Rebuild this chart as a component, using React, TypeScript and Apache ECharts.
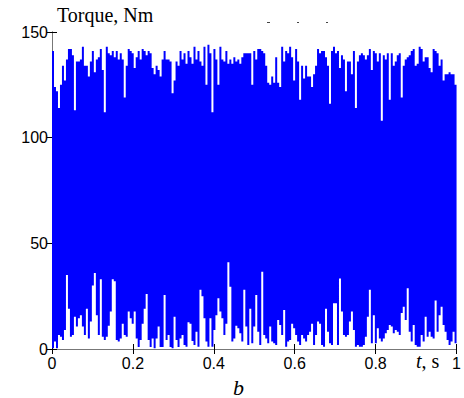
import React, { useEffect, useRef } from "react";
import * as echarts from "echarts";

// Upper envelope (peaks) of the torque signal, Nm, read every ~2 px from t = 0 to 1 s
const upperPeaks: number[] = [
  141, 124, 122, 114, 125, 134, 127, 137, 142, 142,
  139, 113, 136, 136, 137, 143, 134, 134, 129, 136,
  141, 131, 137, 138, 142, 132, 112, 143, 140, 139,
  141, 138, 141, 137, 140, 137, 119, 134, 142, 141,
  140, 133, 138, 141, 137, 142, 141, 139, 141, 140,
  133, 130, 134, 132, 129, 137, 141, 137, 137, 136,
  121, 127, 136, 134, 141, 137, 140, 135, 141, 138,
  135, 143, 137, 141, 136, 134, 143, 125, 144, 140,
  112, 142, 137, 125, 143, 137, 136, 141, 135, 137,
  135, 138, 136, 137, 135, 138, 140, 140, 140, 140,
  125, 141, 137, 142, 142, 141, 140, 134, 126, 125,
  129, 126, 138, 126, 124, 143, 136, 141, 140, 143,
  138, 127, 142, 136, 118, 134, 128, 134, 129, 129,
  124, 130, 134, 142, 140, 141, 141, 138, 134, 116,
  141, 143, 140, 141, 133, 139, 137, 122, 136, 136,
  130, 141, 114, 136, 139, 140, 139, 137, 139, 142,
  132, 141, 140, 136, 140, 108, 139, 137, 140, 118,
  140, 134, 136, 139, 140, 119, 134, 137, 138, 139,
  141, 142, 134, 135, 143, 142, 136, 138, 138, 133,
  131, 142, 141, 140, 134, 137, 127, 130, 130, 131,
  130, 130, 125,
];

// Lower envelope (troughs) of the torque signal, Nm, same sampling
const lowerTroughs: number[] = [
  0.3, 3.5, 0.3, 6.6, 5.8, 4.3, 9, 35, 19, 5.8,
  6.6, 15.3, 10.6, 14.5, 16, 10.6, 6.6, 19, 5, 13,
  30, 36, 16, 6.6, 33, 5.8, 4.3, 5.8, 11, 17.7,
  33, 32, 4.3, 3.5, 5, 12, 6.6, 5.8, 17.7, 14.5,
  12, 17.7, 5, 1, 4.3, 12, 19, 26, 4.3, 1,
  5, 0.3, 5, 10.6, 1, 1, 25.5, 4.3, 6.6, 1,
  0.3, 15.3, 4.3, 1, 5, 6.6, 1.9, 1.1, 12.6, 12,
  3.8, 1.9, 8.2, 1.1, 28, 25, 14.5, 3.5, 1.1, 14.5,
  1.1, 9, 16, 24, 17.7, 14.5, 6.6, 12, 41, 29.5,
  3.5, 5, 11, 9.8, 7.4, 3.5, 28, 10.6, 1.9, 19,
  2.7, 10.6, 25.5, 8.2, 1.9, 36.6, 6.6, 5, 2.7, 10.6,
  3.5, 2.7, 1.9, 13.7, 11.4, 6.6, 18.5, 1.1, 3.5, 4.3,
  12, 9.8, 6.6, 3.5, 1.9, 6.6, 5, 3.5, 6.6, 8.2,
  12, 1.9, 6.6, 13, 12, 1.9, 1.1, 19, 8.2, 2.7,
  1.9, 21.6, 21.6, 1.9, 33.4, 17.7, 6.6, 5.8, 6.6, 13,
  17.7, 9, 1.1, 1.9, 1.1, 1.1, 1.9, 5.8, 15.3, 28,
  2.7, 16, 2.7, 9.8, 5, 3.5, 5, 7.4, 9, 11.4,
  10.6, 7.4, 9, 8.2, 6.6, 17, 20, 13.7, 28.7, 8.2,
  3.5, 11.4, 1.9, 1.1, 1.1, 6.6, 3.5, 15.3, 5.8, 8.2,
  5.8, 5, 23, 8.2, 16, 20, 11.4, 8.2, 4.3, 1.9,
  3.5, 8.2, 2.7,
];

const xTicks = { min: 0, max: 1, step: 0.2 };
const yTicks = { min: 0, max: 150, step: 50 };

const yAxisTitle = "Torque, Nm";
const xAxisUnit = { name: "t", unit: ", s" };
const panelLabel = "b";

export default function App() {
  const ref = useRef<HTMLDivElement>(null);

  useEffect(() => {
    if (!ref.current) return;
    const chart = echarts.init(ref.current, null, { renderer: "svg" });

    const n = upperPeaks.length;
    // each sample: [tStart, tEnd, low, high]
    const spans: number[][] = [];
    for (let i = 0; i < n; i++) {
      spans.push([i / n, (i + 1) / n, lowerTroughs[i], upperPeaks[i]]);
    }

    const frame = { show: true, lineStyle: { color: "#777", width: 1 } };
    const tick = { show: true, inside: true, length: 5, lineStyle: { color: "#000", width: 1 } };
    const label = {
      color: "#000",
      fontSize: 16,
      fontFamily: "Liberation Sans, Arial, sans-serif",
    };

    chart.setOption({
      animation: false,
      backgroundColor: "#fff",
      grid: { left: 52, right: 6, top: 32, bottom: 49, containLabel: false },
      xAxis: [
        {
          type: "value",
          position: "bottom",
          min: xTicks.min,
          max: xTicks.max,
          interval: xTicks.step,
          axisLine: frame,
          axisTick: tick,
          axisLabel: { ...label, margin: 6 },
          splitLine: { show: false },
        },
        {
          type: "value",
          position: "top",
          min: xTicks.min,
          max: xTicks.max,
          interval: xTicks.step,
          axisLine: frame,
          axisTick: tick,
          axisLabel: { show: false },
          splitLine: { show: false },
        },
      ],
      yAxis: [
        {
          type: "value",
          position: "left",
          min: yTicks.min,
          max: yTicks.max,
          interval: yTicks.step,
          axisLine: frame,
          axisTick: tick,
          axisLabel: { ...label, margin: 4 },
          splitLine: { show: false },
        },
        {
          type: "value",
          position: "right",
          min: yTicks.min,
          max: yTicks.max,
          interval: yTicks.step,
          axisLine: frame,
          axisTick: tick,
          axisLabel: { show: false },
          splitLine: { show: false },
        },
      ],
      series: [
        {
          type: "custom",
          data: spans,
          encode: { x: [0, 1], y: [2, 3] },
          z: 1,
          renderItem: (params: any, api: any) => {
            // the whole signal band is drawn as one polygon (no seams between samples)
            if (params.dataIndex !== 0) return null;
            const pts: number[][] = [];
            for (let i = 0; i < spans.length; i++) {
              const [t0, t1, , hi] = spans[i];
              pts.push(api.coord([t0, hi]));
              pts.push(api.coord([t1, hi]));
            }
            for (let i = spans.length - 1; i >= 0; i--) {
              const [t0, t1, lo] = spans[i];
              pts.push(api.coord([t1, lo]));
              pts.push(api.coord([t0, lo]));
            }
            return {
              type: "polygon",
              shape: { points: pts },
              style: { fill: "#0000ff", stroke: null },
            };
          },
        },
      ],
      graphic: [
        {
          type: "text",
          left: 57,
          top: 5,
          style: {
            text: yAxisTitle,
            fontFamily: "Liberation Serif, Times New Roman, serif",
            fontSize: 20,
            fill: "#000",
          },
        },
        {
          type: "text",
          left: 416,
          top: 351,
          style: {
            text: "{it|" + xAxisUnit.name + "}" + xAxisUnit.unit,
            fontFamily: "Liberation Serif, Times New Roman, serif",
            fontSize: 20,
            fill: "#000",
            rich: {
              it: {
                fontStyle: "italic",
                fontFamily: "Liberation Serif, Times New Roman, serif",
                fontSize: 20,
                fill: "#000",
              },
            },
          },
        },
        {
          type: "text",
          left: 233,
          top: 376,
          style: {
            text: panelLabel,
            fontFamily: "Liberation Serif, Times New Roman, serif",
            fontStyle: "italic",
            fontSize: 22,
            fill: "#000",
          },
        },
        { type: "rect", shape: { x: 267, y: 22, width: 3, height: 1 }, style: { fill: "#444" } },
        { type: "rect", shape: { x: 297, y: 22, width: 2, height: 1 }, style: { fill: "#444" } },
        { type: "rect", shape: { x: 326, y: 22, width: 2, height: 1 }, style: { fill: "#444" } },
      ],
    });

    return () => chart.dispose();
  }, []);

  return (
    <div
      ref={ref}
      style={{ position: "fixed", left: 0, top: 0, width: 464, height: 398 }}
    />
  );
}
